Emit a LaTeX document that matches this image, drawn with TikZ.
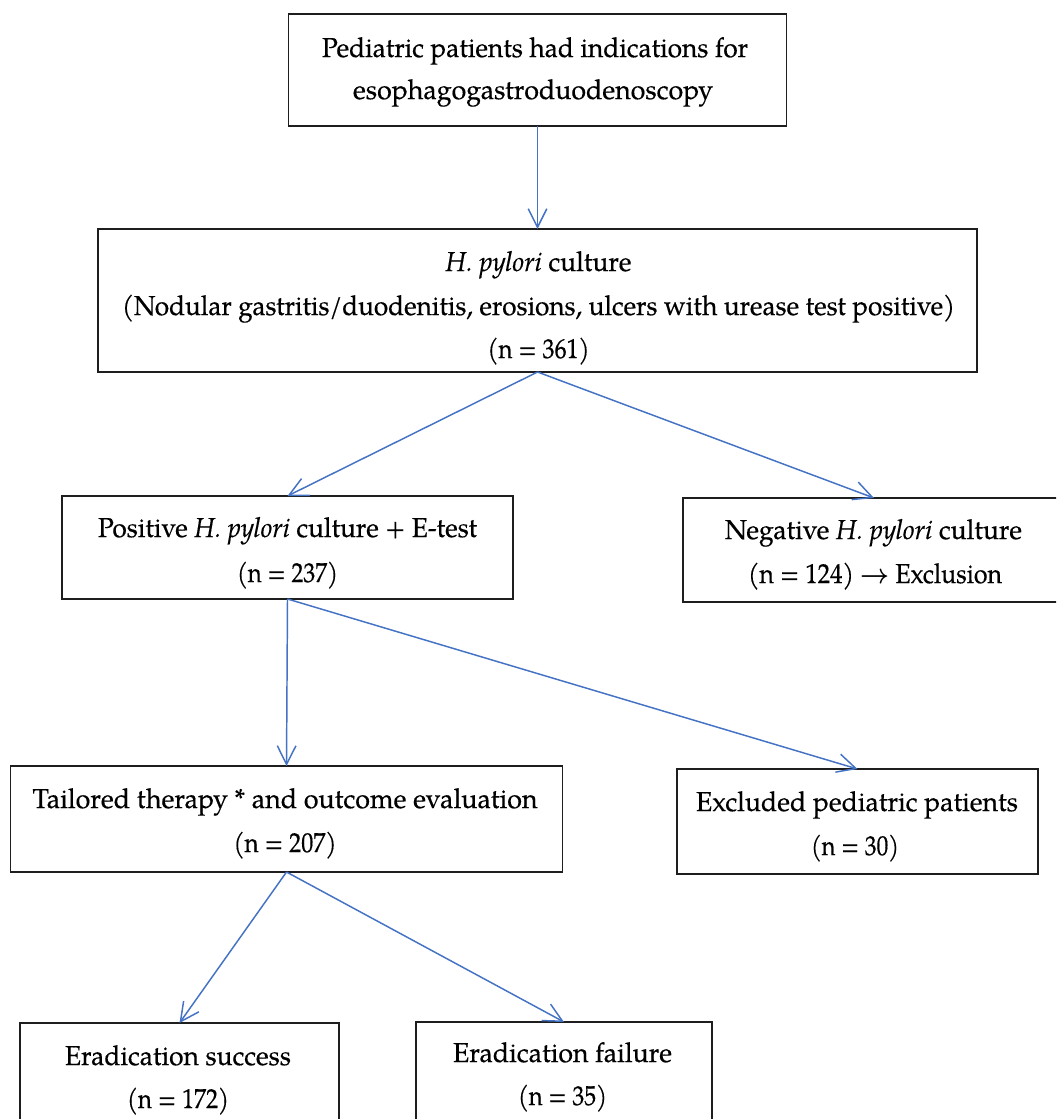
\documentclass[tikz,border=0pt]{standalone}
\usepackage{fontspec}
\setmainfont{TeX Gyre Pagella}[FakeBold=0.35]
\usetikzlibrary{arrows.meta}
\definecolor{arrowblue}{HTML}{4472C4}
\definecolor{boxline}{HTML}{1E1E1E}
\newcommand{\fitline}[2]{\resizebox{\dimexpr #1pt*3/4\relax}{\height}{#2}}
\tikzset{
  boxsize/.style 2 args={minimum width=#1*0.75pt, minimum height=#2*0.75pt},
  flowbox/.style={draw=boxline, line width=1.35pt, rectangle, inner sep=0pt, outer sep=0pt},
  txt/.style={inner sep=0pt, anchor=base, font=\fontsize{20.5}{24}\selectfont},
  conn/.style={draw=arrowblue, line width=1.1pt, -{Straight Barb[length=14pt,width=14pt]}}
}
\begin{document}
\begin{tikzpicture}[x=0.75pt,y=-0.75pt]
\fill[white] (0,0) rectangle (1056,1119);
\useasboundingbox (0,0) rectangle (1056,1119);
\clip (0,0) rectangle (1056,1119);

% boxes
\node[flowbox, boxsize={498}{112}] (b1) at (537.5,70) {};
\node[flowbox, boxsize={879}{143}] (b2) at (537.5,300.5) {};
\node[flowbox, boxsize={451}{103}] (b3) at (287.5,547.5) {};
\node[flowbox, boxsize={382}{104}] (b4) at (874,550) {};
\node[flowbox, boxsize={552}{106}] (b5) at (286.5,819) {};
\node[flowbox, boxsize={361}{105}] (b6) at (857.5,821.5) {};
\node[flowbox, boxsize={319}{117}] (b7) at (179.5,1081.5) {};
\node[flowbox, boxsize={296}{118}] (b8) at (564,1081) {};

% texts
\node[txt] (t1a) at (535,57) {\fitline{426}{Pediatric patients had indications for}};
\node[txt] (t1b) at (533,99) {\fitline{360}{esophagogastroduodenoscopy}};

\node[txt] (t2a) at (538.5,271) {\fitline{186}{\textit{H. pylori} culture}};
\node[txt] (t2b) at (538.5,315) {\fitline{833}{(Nodular gastritis/duodenitis, erosions, ulcers with urease test positive)}};
\node[txt] (t2c) at (538.5,358) {\fitline{102}{(n = 361)}};

\node[txt] (t3a) at (287.5,537) {\fitline{379}{Positive \textit{H. pylori} culture + E-test}};
\node[txt] (t3b) at (287.5,582) {\fitline{101}{(n = 237)}};

\node[txt] (t4a) at (873.5,539) {\fitline{297}{Negative \textit{H. pylori} culture}};
\node[txt] (t4b) at (875,583) {\fitline{254}{(n = 124) {\boldmath$\rightarrow$} Exclusion}};

\node[txt] (t5a) at (285,808) {\fitline{505}{Tailored therapy * and outcome evaluation}};
\node[txt] (t5b) at (285,852) {\fitline{103}{(n = 207)}};

\node[txt] (t6a) at (857,811) {\fitline{322}{Excluded pediatric patients}};
\node[txt] (t6b) at (855,855) {\fitline{88}{(n = 30)}};

\node[txt] (t7a) at (178,1065) {\fitline{226}{Eradication success}};
\node[txt] (t7b) at (178,1108) {\fitline{102}{(n = 172)}};

\node[txt] (t8a) at (562.5,1062) {\fitline{219}{Eradication failure}};
\node[txt] (t8b) at (562.5,1105) {\fitline{89}{(n = 35)}};

% connectors
\draw[conn] (b1.south) -- (b2.north);
\draw[conn] (b2.south) -- (b3.north);
\draw[conn] (b2.south) -- (b4.north);
\draw[conn] (b3.south) -- (b5.north);
\draw[conn] (b3.south) -- (b6.north);
\draw[conn] (b5.south) -- (b7.north);
\draw[conn] (b5.south) -- (b8.north);
\end{tikzpicture}
\end{document}
